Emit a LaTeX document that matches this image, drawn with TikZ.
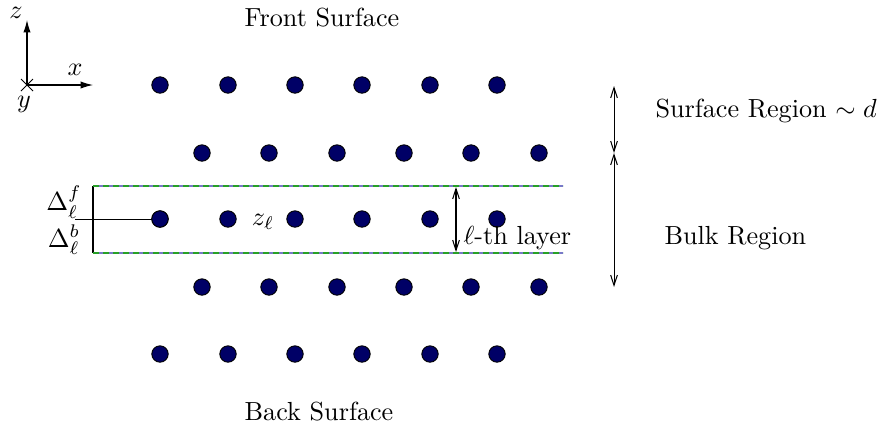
\documentclass[tikz,border=0pt]{standalone}
\usetikzlibrary{arrows.meta}
\definecolor{atomblue}{RGB}{0,0,102}
\definecolor{lineblue}{RGB}{120,120,200}
\definecolor{linegreen}{RGB}{40,160,40}
\begin{document}
\begin{tikzpicture}[x=0.39pt,y=-0.39pt,
  atom/.style={circle,draw=black,fill=atomblue,inner sep=0pt,minimum size=6.4pt,line width=0.35pt},
  lbl/.style={inner sep=0pt,scale=1.02},
  dimarrow/.style={{Straight Barb[length=4pt,width=2.6pt]}-{Straight Barb[length=4pt,width=2.6pt]},line width=0.4pt},
  axisarrow/.style={-{Latex[length=4.8pt,width=2.8pt]},line width=0.4pt}]
\useasboundingbox (0,0) rectangle (883,428);
% axes
\coordinate (O) at (27,85);
\coordinate (zend) at (27,20);
\coordinate (xend) at (93,85);
\draw[axisarrow] (O) -- (zend);
\draw[axisarrow] (O) -- (xend);
\draw (21,79) -- (33,91);
\draw (21,91) -- (33,79);
\node[lbl] (zl) at (16,13) {$z$};
\node[lbl] (xl) at (75,70) {$x$};
\node[lbl] (yl) at (24,104) {$y$};
% titles
\node[lbl] (front) at (322,18) {Front Surface};
\node[lbl] (back) at (319,412) {Back Surface};
% atoms
\foreach \x [count=\i] in {160,228,295,362,430,497}{
  \node[atom] (a1\i) at (\x,85) {};
  \node[atom] (a3\i) at (\x,219) {};
  \node[atom] (a5\i) at (\x,354) {};
}
\foreach \x [count=\i] in {202,269,337,404,471,539}{
  \node[atom] (a2\i) at (\x,153) {};
  \node[atom] (a4\i) at (\x,287) {};
}
% layer box
\coordinate (tl) at (93,186);
\coordinate (tr) at (563,186);
\coordinate (bl) at (93,253);
\coordinate (br) at (563,253);
\draw (tl) -- (bl);
\draw[lineblue,line width=0.5pt] (tl) -- (tr);
\draw[lineblue,line width=0.5pt] (bl) -- (br);
\draw[linegreen,line width=0.5pt,dash pattern=on 2.3pt off 1.6pt] (tl) -- (tr);
\draw[linegreen,line width=0.5pt,dash pattern=on 2.3pt off 1.6pt] (bl) -- (br);
\coordinate (hl) at (75,219);
\draw (hl) -- (a31.center);
\node[atom] at (a31) {};
\node[lbl] (df) at (64,202) {$\Delta_\ell^f$};
\node[lbl] (db) at (64,240) {$\Delta_\ell^b$};
\node[lbl] (zell) at (263,222) {$z_\ell$};
% layer arrow
\coordinate (lt) at (456,187);
\coordinate (lb) at (456,252);
\draw[dimarrow] (lt) -- (lb);
\node[lbl,anchor=west] (layer) at (463,238) {$\ell$-th layer};
% region arrows
\coordinate (r1) at (614,86);
\coordinate (r2) at (614,153);
\coordinate (r3) at (614,287);
\draw[dimarrow] (r1) -- (r2);
\draw[dimarrow] (r2) -- (r3);
\node[lbl,anchor=west] (surf) at (655,111) {Surface Region $\sim d$};
\node[lbl,anchor=west] (bulk) at (664,238) {Bulk Region};
\end{tikzpicture}
\end{document}
